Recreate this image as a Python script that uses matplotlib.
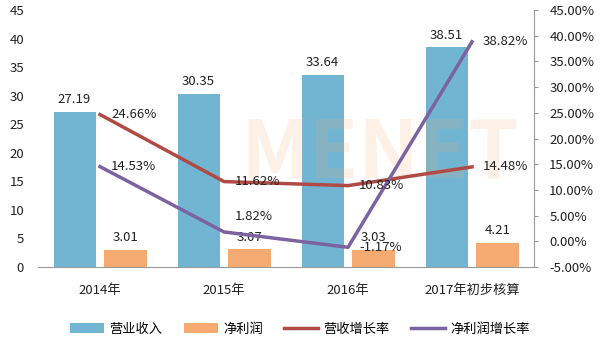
import matplotlib
matplotlib.use("Agg")
import matplotlib.pyplot as plt
import numpy as np

plt.rcParams['font.family'] = ['Noto Sans CJK SC', 'DejaVu Sans']

categories = ["2014年", "2015年", "2016年", "2017年初步核算"]
revenue = [27.19, 30.35, 33.64, 38.51]
net_profit = [3.01, 3.07, 3.03, 4.21]
revenue_growth = [24.66, 11.62, 10.83, 14.48]
profit_growth = [14.53, 1.82, -1.17, 38.82]
left_ticks = [0, 5, 10, 15, 20, 25, 30, 35, 40, 45]
right_ticks = [-5, 0, 5, 10, 15, 20, 25, 30, 35, 40, 45]

c_blue = "#72B5D3"
c_orange = "#F4AA70"
c_red = "#B04A45"
c_purple = "#7B62A0"
c_text = "#222222"

fig = plt.figure(figsize=(6.0, 3.44), dpi=100)
ax = fig.add_axes([38/600, 77/344, (534-38)/600, (267-10)/344])
x = np.arange(len(categories))
w = 0.34
off = 0.205

b1 = ax.bar(x - off, revenue, w, color=c_blue, label="营业收入", zorder=2)
b2 = ax.bar(x + off, net_profit, w, color=c_orange, label="净利润", zorder=2)
ax.set_xlim(-0.5, 3.5)
ax.set_ylim(0, 45)
ax.set_yticks(left_ticks)
ax.set_xticks(x)
ax.set_xticklabels(categories, fontsize=9.5, color=c_text)
for s in ["top", "right", "left"]:
    ax.spines[s].set_visible(False)
ax.spines["bottom"].set_color("#9a9a9a")
ax.tick_params(axis="y", length=0, labelsize=9.5, labelcolor=c_text, pad=10)
ax.tick_params(axis="x", length=0, pad=12)

for xi, v in zip(x, revenue):
    ax.annotate(f"{v:.2f}", (xi - off, v), xytext=(0, 4), textcoords="offset points",
                ha="center", va="bottom", fontsize=9.5, color=c_text)
for xi, v in zip(x, net_profit):
    ax.annotate(f"{v:.2f}", (xi + off, v), xytext=(0, 4), textcoords="offset points",
                ha="center", va="bottom", fontsize=9.5, color=c_text)

# faint site watermark over the bars
ax.text(0.69, 0.44, "MENET", transform=ax.transAxes, fontsize=58, fontweight="bold",
        color="#F6A86A", alpha=0.16, ha="center", va="center", zorder=2.5)

ax2 = ax.twinx()
ax2.set_ylim(-5, 45)
ax2.set_yticks(right_ticks)
ax2.set_yticklabels([f"{t:.2f}%" for t in right_ticks])
for s in ["top", "left", "bottom"]:
    ax2.spines[s].set_visible(False)
ax2.spines["right"].set_color("#9a9a9a")
ax2.tick_params(axis="y", length=3, color="#9a9a9a", labelsize=9.5, labelcolor=c_text, pad=8)

l1, = ax2.plot(x, revenue_growth, color=c_red, lw=2.5, label="营收增长率", zorder=3)
l2, = ax2.plot(x, profit_growth, color=c_purple, lw=2.5, label="净利润增长率", zorder=3)

for xi, v in zip(x, revenue_growth):
    ax2.annotate(f"{v:.2f}%", (xi, v), xytext=(8, 0), textcoords="offset points",
                 ha="left", va="center", fontsize=9.5, color=c_text)
prof_offsets = [(8, 0), (8, 11), (8, 0), (8, 0)]
for xi, v, o in zip(x, profit_growth, prof_offsets):
    ax2.annotate(f"{v:.2f}%", (xi, v), xytext=o, textcoords="offset points",
                 ha="left", va="center", fontsize=9.5, color=c_text)

fig.legend(handles=[b1, b2, l1, l2], loc="center", bbox_to_anchor=(0.5, 15/344),
           ncol=4, frameon=False, fontsize=9.5, handlelength=2.6, columnspacing=1.6,
           handletextpad=0.4)

fig.savefig("out.png", dpi=100)
